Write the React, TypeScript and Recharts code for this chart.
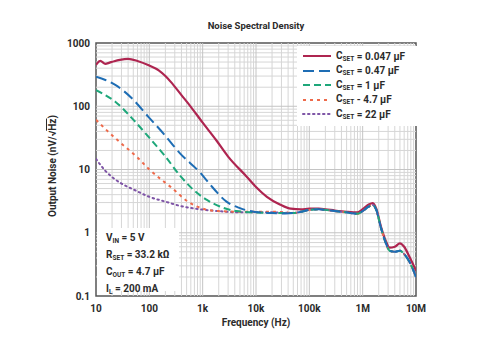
import { LineChart, Line, XAxis, YAxis, ReferenceLine, ReferenceArea, Legend, Label } from "recharts";

const FONT = "Roboto, 'Noto Sans', Arial, sans-serif";
const TEXT = "#2b2b2b";

// tick labels
const xTicks = [10, 100, 1e3, 1e4, 1e5, 1e6, 1e7];
const xTickLabels = ["10", "100", "1k", "10k", "100k", "1M", "10M"];
const yTicks = [0.1, 1, 10, 100, 1000];
const yTickLabels = ["0.1", "1", "10", "100", "1000"];

// C_SET = 0.047 uF
const redFreq = [10, 12, 15, 18, 22, 28, 40, 60, 100, 150, 200, 250, 400, 600, 1000, 1800, 3000, 6700, 10000, 16000, 28000, 45000, 70000, 100000, 150000, 200000, 300000, 500000, 800000, 1000000, 1300000, 1550000, 1800000, 2200000, 2700000, 3200000, 4000000, 5000000, 6000000, 7500000, 10000000];
const redNoise = [450, 520, 468, 490, 515, 540, 560, 520, 440, 370, 300, 245, 150, 98, 55, 29, 16, 7.7, 5.3, 3.7, 2.8, 2.4, 2.35, 2.4, 2.4, 2.35, 2.25, 2.15, 2.1, 2.35, 2.8, 2.95, 2.4, 1.25, 0.75, 0.58, 0.6, 0.68, 0.6, 0.42, 0.25];

// shared tail of the lower-C curves
const tailFreq = [50000, 70000, 100000, 150000, 200000, 300000, 500000, 800000, 1000000, 1300000, 1550000, 1800000, 2200000, 2700000, 3200000, 4000000, 5000000, 6000000, 7500000, 10000000];
const tailNoise = [2.05, 2.15, 2.3, 2.35, 2.3, 2.2, 2.1, 2.0, 2.2, 2.6, 2.75, 2.3, 1.2, 0.7, 0.52, 0.5, 0.52, 0.46, 0.35, 0.2];

// C_SET = 0.47 uF
const blueFreq = [10, 15, 23, 47, 96, 195, 376, 890, 1600, 2800, 5000, 9000, 20000, 35000];
const blueNoise = [293, 260, 217, 134, 68, 35, 18, 9, 5, 3.1, 2.45, 2.15, 2.05, 2.02];

// C_SET = 1 uF
const greenFreq = [10, 15, 23, 47, 96, 195, 376, 665, 1200, 2100, 4300, 9000, 20000, 35000];
const greenNoise = [180, 150, 118, 65, 33, 16.5, 8, 4.8, 3.3, 2.6, 2.2, 2.1, 2.05, 2.05];

// C_SET = 4.7 uF
const orangeFreq = [10, 17, 28, 58, 100, 265, 530, 1100, 2000, 5000, 10000, 20000, 35000];
const orangeNoise = [61, 39.5, 27, 15.9, 10, 5.1, 3.1, 2.35, 2.2, 2.15, 2.15, 2.15, 2.1];

// C_SET = 22 uF
const purpleFreq = [10, 15, 20, 30, 54, 100, 200, 350, 1100, 2000, 5000, 10000, 20000, 35000];
const purpleNoise = [14.7, 9.5, 7.6, 6, 4.7, 3.7, 3.1, 2.7, 2.3, 2.2, 2.1, 2.1, 2.1, 2.08];

const toRows = (f: number[], v: number[]) => f.map((x, i) => ({ f: x, v: v[i] }));
const withTail = (f: number[], v: number[]) => toRows([...f, ...tailFreq], [...v, ...tailNoise]);

const series = [
  { key: "red", name: "0.047 µF", sep: "=", color: "#AE2550", dash: undefined, width: 2.2, data: toRows(redFreq, redNoise) },
  { key: "purple", name: "22 µF", sep: "=", color: "#7E54A6", dash: "1.5 3.5", width: 2, data: withTail(purpleFreq, purpleNoise) },
  { key: "orange", name: "4.7 µF", sep: "-", color: "#EE6A4B", dash: "3 4", width: 2, data: withTail(orangeFreq, orangeNoise) },
  { key: "green", name: "1 µF", sep: "=", color: "#1EA77A", dash: "7 4", width: 2, data: withTail(greenFreq, greenNoise) },
  { key: "blue", name: "0.47 µF", sep: "=", color: "#1E6DB4", dash: "11 5", width: 2, data: withTail(blueFreq, blueNoise) },
];
const legendOrder = ["red", "blue", "green", "orange", "purple"];

// gridlines at 1..9 of each decade
const xGrid: number[] = [];
for (let d = 10; d < 1e7; d *= 10) for (let m = 2; m <= 9; m++) xGrid.push(d * m);
const yGrid: number[] = [];
for (let d = 0.1; d < 1000; d *= 10) for (let m = 2; m <= 9; m++) yGrid.push(+(d * m).toPrecision(3));

function Sub({ main, sub }: { main: string; sub: string }) {
  return (
    <span>
      {main}
      <sub style={{ fontSize: 6.5, verticalAlign: "-2px" }}>{sub}</sub>
    </span>
  );
}

function LegendBox() {
  return (
    <div style={{ background: "#fff", padding: "3px 4px 4px 5px", fontFamily: FONT, fontWeight: 700, fontSize: 10, color: TEXT }}>
      {legendOrder.map((k) => {
        const s = series.find((x) => x.key === k)!;
        return (
          <div key={k} style={{ display: "flex", alignItems: "center", height: 14.5 }}>
            <svg width={30} height={6} style={{ marginRight: 4 }}>
              <line x1={1} y1={3} x2={29} y2={3} stroke={s.color} strokeWidth={2} strokeDasharray={s.dash} strokeLinecap={k === "purple" ? "round" : "butt"} />
            </svg>
            <Sub main="C" sub="SET" />
            <span>&nbsp;{s.sep} {s.name}</span>
          </div>
        );
      })}
    </div>
  );
}

export default function App() {
  return (
    <div style={{ position: "absolute", left: 0, top: 0, width: 500, height: 352, background: "#fff" }}>
      <div style={{ position: "absolute", top: 20, width: 512, textAlign: "center", fontFamily: FONT, fontWeight: 700, fontSize: 9.5, color: TEXT }}>
        Noise Spectral Density
      </div>
      <LineChart width={500} height={352} margin={{ top: 43, right: 84, bottom: 36, left: 46 }}>
        {xGrid.map((v) => (
          <ReferenceLine key={"x" + v} x={v} stroke="#d6d6d6" strokeWidth={1} ifOverflow="hidden" />
        ))}
        {yGrid.map((v) => (
          <ReferenceLine key={"y" + v} y={v} stroke="#d6d6d6" strokeWidth={1} ifOverflow="hidden" />
        ))}
        {xTicks.slice(1, -1).map((v) => (
          <ReferenceLine key={"X" + v} x={v} stroke="#c4c4c4" strokeWidth={1} />
        ))}
        {yTicks.slice(1, -1).map((v) => (
          <ReferenceLine key={"Y" + v} y={v} stroke="#c4c4c4" strokeWidth={1} />
        ))}
        <XAxis
          dataKey="f"
          type="number"
          scale="log"
          domain={[10, 1e7]}
          ticks={xTicks}
          allowDataOverflow
          tickFormatter={(v) => xTickLabels[xTicks.indexOf(v)]}
          tick={{ fontFamily: FONT, fontWeight: 700, fontSize: 10, fill: TEXT }}
          tickLine={false}
          tickSize={0}
          axisLine={false}
          tickMargin={9}
          height={20}
        >
          <Label value="Frequency (Hz)" position="insideBottom" offset={-10} style={{ fontFamily: FONT, fontWeight: 700, fontSize: 10, fill: TEXT }} />
        </XAxis>
        <YAxis
          type="number"
          scale="log"
          domain={[0.1, 1000]}
          ticks={yTicks}
          allowDataOverflow
          tickFormatter={(v) => yTickLabels[yTicks.indexOf(v)]}
          tick={{ fontFamily: FONT, fontWeight: 700, fontSize: 10, fill: TEXT }}
          tickLine={false}
          tickSize={0}
          axisLine={false}
          tickMargin={6}
          width={50}
        />
        <Legend
          verticalAlign="middle"
          align="center"
          layout="vertical"
          wrapperStyle={{ position: "absolute", left: 297, top: 46, width: 120 }}
          content={() => <LegendBox />}
        />
        {series.map((s) => (
          <Line
            key={s.key}
            data={s.data}
            dataKey="v"
            name={s.name}
            type="monotone"
            stroke={s.color}
            strokeWidth={s.width}
            strokeDasharray={s.dash}
            strokeLinecap={s.key === "purple" ? "round" : "butt"}
            dot={false}
            activeDot={false}
            isAnimationActive={false}
          />
        ))}
        <ReferenceArea x1={10} x2={1e7} y1={0.1} y2={1000} fill="none" stroke="#555" strokeWidth={1.5} />
      </LineChart>
      <div style={{ position: "absolute", left: 53, top: 166, width: 0, height: 0 }}>
        <div
          style={{
            position: "absolute",
            left: -80,
            top: -7,
            width: 160,
            textAlign: "center",
            transform: "rotate(-90deg)",
            fontFamily: FONT,
            fontWeight: 700,
            fontSize: 10,
            color: TEXT,
            whiteSpace: "nowrap",
            lineHeight: "14px",
          }}
        >
          Output Noise (nV/√<span style={{ textDecoration: "overline" }}>Hz</span>)
        </div>
      </div>
      <div
        style={{
          position: "absolute",
          left: 97,
          top: 228,
          width: 82,
          height: 63,
          background: "#fff",
          fontFamily: FONT,
          fontWeight: 700,
          fontSize: 10,
          color: TEXT,
          padding: "3px 0 0 9px",
          boxSizing: "border-box",
          lineHeight: "14px",
        }}
      >
        <div><Sub main="V" sub="IN" /> = 5 V</div>
        <div><Sub main="R" sub="SET" /> = 33.2 kΩ</div>
        <div><Sub main="C" sub="OUT" /> = 4.7 µF</div>
        <div><Sub main="I" sub="L" /> = 200 mA</div>
      </div>
    </div>
  );
}
